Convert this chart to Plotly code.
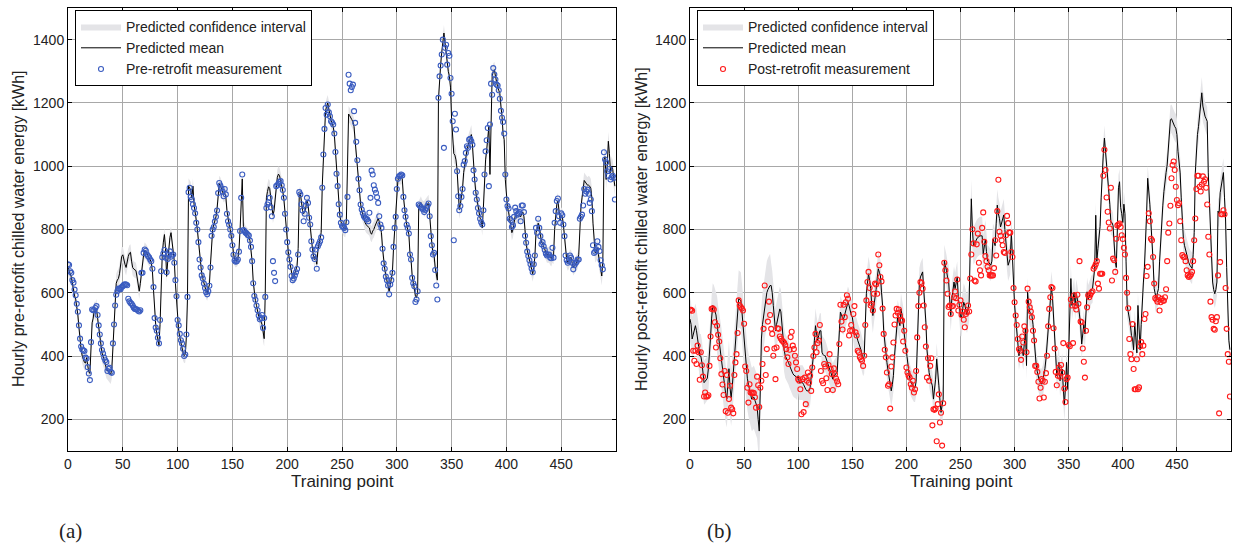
import plotly.graph_objects as go
import numpy as np

# ---------------- data: panel (a) pre-retrofit ----------------
meas_a = [
    690, 688, 668, 663, 640, 632, 610, 592, 565, 540,
    497, 455, 430, 421, 418, 416, 395, 392, 365, 345,
    324, 444, 547, 545, 545, 552, 558, 530, 497, 468,
    440, 419, 408, 395, 387, 381, 353, 360, 363, 350,
    347, 440, 500, 560, 594, 605, 613, 612, 611, 618,
    621, 625, 627, 626, 624, 581, 573, 568, 565, 560,
    553, 549, 548, 547, 543, 541, 545, 663, 663, 726,
    737, 733, 721, 716, 712, 705, 700, 676, 618, 520,
    490, 480, 458, 440, 514, 668, 712, 724, 735, 711,
    665, 707, 721, 731, 714, 718, 721, 695, 640, 589,
    514, 497, 470, 450, 440, 423, 400, 405, 468, 587,
    918, 932, 903, 895, 880, 868, 851, 821, 800, 760,
    705, 680, 655, 645, 629, 615, 602, 595, 605, 622,
    680, 780, 800, 808, 825, 840, 860, 915, 947, 939,
    930, 920, 905, 928, 911, 850, 826, 815, 800, 780,
    750, 720, 702, 698, 700, 705, 730, 795, 900, 974,
    798, 795, 790, 787, 783, 781, 765, 745, 700, 630,
    590, 578, 560, 545, 528, 516, 520, 530, 489, 520,
    587, 868, 879, 886, 900, 870, 842, 700, 663, 637,
    937, 940, 945, 950, 953, 940, 925, 900, 850, 800,
    760, 728, 705, 682, 653, 640, 645, 655, 665, 675,
    721, 918, 911, 880, 860, 826, 850, 876, 900, 884,
    837, 816, 763, 737, 715, 707, 737, 676, 747, 755,
    763, 775, 932, 1037, 1118, 1184, 1163, 1195, 1170, 1158,
    1142, 1138, 1132, 1103, 1045, 976, 937, 880, 847, 821,
    811, 808, 805, 798, 823, 903, 1289, 1261, 1240, 1250,
    1258, 1174, 1137, 1077, 1019, 960, 924, 879, 863, 851,
    842, 837, 834, 832, 826, 853, 900, 986, 974, 940,
    926, 916, 902, 884, 842, 816, 805, 739, 693, 676,
    651, 640, 623, 595, 626, 640, 663, 745, 805, 840,
    928, 960, 968, 970, 974, 971, 903, 861, 840, 815,
    805, 787, 721, 705, 647, 630, 621, 571, 579, 605,
    879, 875, 871, 866, 863, 855, 862, 868, 875, 882,
    842, 779, 750, 721, 726, 672, 623, 579, 1216, 1284,
    1318, 1353, 1400, 1058, 1374, 1384, 1321, 1358, 1349, 1279,
    1229, 1142, 766, 1166, 1116, 984, 905, 861, 874, 903,
    928, 1005, 1016, 1042, 1063, 1058, 1084, 1087, 1079, 1068,
    987, 958, 916, 895, 868, 851, 834, 823, 816, 861,
    974, 1047, 1082, 1121, 937, 1132, 1261, 1226, 1310, 1290,
    1274, 1258, 1255, 1240, 1213, 1175, 1153, 1140, 1103, 974,
    895, 874, 866, 834, 829, 808, 813, 840, 869, 858,
    847, 851, 855, 826, 876, 876, 855, 780, 758, 730,
    716, 703, 690, 677, 665, 690, 718, 805, 790, 834,
    805, 779, 753, 760, 747, 735, 724, 718, 720, 721,
    711, 709, 742, 711, 821, 858, 890, 898, 842, 821,
    851, 845, 816, 779, 718, 703, 695, 700, 718, 711,
    695, 674, 687, 693, 697, 705, 705, 834, 840, 847,
    876, 928, 913, 920, 926, 913, 884, 895, 858, 750,
    726, 730, 737, 763, 745, 732, 703, 687, 674, 1044,
    1021, 1012, 984, 970, 991, 958, 965, 970, 963, 895,
]

mean_a = [
    680, 672, 660, 650, 630, 600, 590, 580, 560, 530,
    490, 450, 420, 400, 385, 380, 378, 395, 370, 350,
    345, 460, 505, 520, 547, 540, 550, 520, 490, 455,
    430, 410, 400, 390, 375, 360, 355, 350, 345, 342,
    360, 430, 520, 600, 630, 640, 645, 660, 690, 715,
    720, 700, 690, 680, 700, 715, 725, 728, 700, 680,
    675, 672, 670, 650, 620, 605, 630, 665, 700, 720,
    735, 730, 725, 715, 710, 705, 695, 670, 610, 540,
    500, 470, 455, 435, 500, 640, 720, 760, 784, 740,
    652, 700, 740, 775, 790, 760, 740, 700, 630, 570,
    510, 480, 460, 440, 425, 410, 402, 405, 460, 580,
    937, 930, 925, 900, 937, 880, 860, 830, 800, 765,
    720, 680, 660, 645, 630, 615, 605, 600, 610, 625,
    690, 770, 800, 815, 825, 840, 865, 920, 945, 940,
    930, 920, 910, 915, 905, 860, 830, 815, 800, 780,
    755, 725, 705, 700, 702, 708, 735, 800, 900, 960,
    810, 800, 792, 788, 785, 780, 765, 740, 700, 635,
    595, 575, 560, 540, 525, 515, 510, 500, 470, 455,
    600, 900, 920, 935, 930, 900, 860, 845, 860, 900,
    940, 965, 975, 970, 955, 940, 920, 895, 850, 800,
    760, 730, 705, 680, 655, 645, 650, 660, 670, 685,
    740, 910, 915, 880, 860, 850, 855, 870, 890, 880,
    840, 810, 765, 740, 715, 705, 720, 690, 735, 750,
    765, 790, 940, 1040, 1115, 1175, 1190, 1200, 1180, 1160,
    1145, 1135, 1125, 1100, 1045, 980, 935, 880, 845, 825,
    812, 808, 803, 800, 830, 1000, 1165, 1160, 1150, 1147,
    1140, 1125, 1080, 1040, 990, 950, 910, 880, 860, 845,
    830, 822, 815, 812, 810, 805, 790, 785, 795, 800,
    810, 820, 830, 835, 825, 805, 790, 740, 695, 675,
    655, 640, 625, 605, 625, 640, 665, 740, 800, 845,
    920, 955, 965, 960, 965, 960, 905, 865, 840, 815,
    800, 785, 725, 705, 655, 635, 620, 590, 585, 600,
    870, 880, 885, 875, 870, 865, 870, 875, 880, 885,
    845, 785, 755, 725, 720, 680, 650, 640, 1210, 1280,
    1320, 1360, 1400, 1421, 1390, 1360, 1320, 1300, 1284, 1250,
    1147, 1080, 1040, 1035, 1020, 989, 900, 863, 880, 900,
    930, 980, 1010, 1035, 1050, 1065, 1080, 1090, 1100, 1068,
    990, 960, 920, 895, 870, 850, 835, 832, 805, 870,
    955, 1020, 1050, 1100, 1125, 974, 1200, 1284, 1300, 1305,
    1285, 1265, 1250, 1240, 1230, 1190, 1158, 1100, 1084, 958,
    895, 870, 855, 832, 810, 790, 800, 830, 842, 845,
    842, 842, 845, 840, 850, 855, 840, 790, 755, 735,
    720, 705, 690, 675, 660, 680, 715, 790, 800, 820,
    810, 785, 760, 755, 745, 735, 725, 720, 720, 720,
    712, 708, 720, 715, 800, 850, 880, 890, 850, 830,
    845, 840, 815, 780, 725, 705, 695, 700, 712, 710,
    695, 680, 685, 690, 695, 700, 720, 830, 870, 900,
    935, 955, 950, 945, 940, 940, 937, 930, 900, 820,
    760, 726, 730, 740, 720, 700, 680, 653, 700, 1021,
    1030, 958, 1000, 1079, 1040, 980, 1000, 990, 960, 937,
]

# confidence half-width, one value per block of 25 training points
ci_half_a = [25, 30, 25, 20, 25, 25, 20, 25, 20, 25,
             25, 25, 20, 25, 30, 25, 25, 25, 25, 30]

# ---------------- data: panel (b) post-retrofit ----------------
meas_b = [
    546, 546, 543, 417, 385, 417, 375, 433, 412, 325,
    412, 371, 335, 272, 285, 272, 272, 276, 369, 462,
    549, 551, 547, 507, 427, 496, 467, 446, 393, 343,
    310, 277, 353, 226, 340, 221, 264, 306, 237, 232,
    219, 340, 380, 406, 473, 576, 560, 554, 550, 544,
    502, 367, 353, 300, 253, 311, 285, 283, 285, 283,
    270, 237, 335, 308, 239, 300, 322, 375, 486, 623,
    340, 422, 509, 572, 530, 486, 470, 401, 424, 327,
    427, 488, 486, 462, 455, 449, 446, 442, 435, 422,
    396, 375, 420, 460, 477, 433, 422, 401, 380, 359,
    327, 322, 295, 216, 327, 223, 332, 248, 322, 348,
    316, 338, 290, 364, 400, 427, 470, 412, 441, 449,
    498, 353, 322, 314, 375, 367, 330, 293, 372, 406,
    359, 343, 293, 361, 343, 329, 320, 311, 438, 562,
    509, 484, 562, 523, 570, 592, 581, 465, 480, 498,
    480, 533, 558, 475, 465, 417, 412, 396, 390, 385,
    369, 401, 498, 576, 634, 666, 615, 560, 565, 544,
    597, 629, 626, 597, 721, 687, 650, 636, 550, 470,
    420, 396, 348, 306, 311, 234, 367, 396, 443, 500,
    528, 549, 537, 547, 528, 515, 512, 446, 480, 417,
    364, 348, 338, 332, 311, 300, 322, 285, 295, 353,
    459, 558, 600, 634, 631, 613, 560, 491, 430, 332,
    393, 322, 369, 393, 181, 232, 230, 234, 131, 248,
    279, 190, 221, 117, 251, 695, 671, 639, 597, 555,
    560, 533, 558, 558, 586, 604, 583, 642, 544, 562,
    576, 530, 541, 515, 491, 533, 539, 560, 541, 645,
    721, 801, 756, 639, 636, 753, 787, 695, 671, 655,
    805, 854, 761, 716, 700, 682, 671, 655, 655, 655,
    655, 678, 766, 718, 858, 957, 793, 780, 766, 750,
    729, 726, 782, 843, 820, 790, 790, 729, 713, 615,
    570, 528, 498, 454, 422, 417, 388, 462, 443, 494,
    480, 412, 613, 572, 554, 541, 523, 480, 449, 369,
    369, 350, 319, 266, 300, 327, 322, 269, 319, 346,
    401, 494, 549, 586, 618, 615, 488, 424, 350, 308,
    338, 364, 335, 372, 348, 441, 297, 255, 327, 332,
    435, 431, 579, 560, 441, 592, 558, 547, 594, 565,
    700, 509, 507, 424, 382, 332, 480, 554, 592, 586,
    594, 601, 605, 676, 682, 690, 700, 629, 613, 660,
    660, 660, 970, 1052, 988, 901, 856, 822, 803, 932,
    639, 708, 703, 666, 771, 813, 816, 819, 808, 782,
    770, 742, 721, 647, 600, 551, 454, 406, 390, 501,
    359, 295, 295, 390, 295, 301, 431, 444, 406, 433,
    517, 533, 653, 682, 851, 826, 771, 766, 713, 629,
    583, 579, 572, 586, 544, 570, 581, 575, 575, 586,
    611, 700, 790, 819, 875, 962, 1004, 1015, 988, 935,
    893, 877, 883, 826, 766, 719, 713, 713, 700, 671,
    655, 650, 653, 658, 666, 700, 766, 835, 928, 970,
    970, 935, 920, 942, 968, 951, 959, 932, 879, 777,
    721, 572, 523, 515, 486, 483, 510, 523, 655, 219,
    697, 848, 848, 861, 848, 615, 486, 406, 382, 272,
]

mean_b = [
    517, 500, 454, 470, 490, 496, 480, 460, 430, 400,
    400, 380, 350, 316, 320, 325, 330, 360, 400, 460,
    520, 560, 555, 540, 530, 500, 470, 450, 420, 400,
    370, 338, 300, 280, 264, 300, 360, 300, 269, 300,
    350, 380, 420, 470, 530, 581, 578, 575, 540, 500,
    454, 400, 360, 330, 310, 295, 280, 264, 265, 270,
    260, 250, 240, 200, 163, 300, 454, 500, 530, 560,
    580, 600, 610, 620, 623, 623, 600, 560, 520, 480,
    500, 520, 540, 549, 540, 500, 450, 420, 401, 395,
    390, 380, 370, 360, 350, 345, 340, 338, 335, 330,
    338, 316, 316, 316, 316, 310, 300, 295, 290, 290,
    290, 300, 330, 370, 400, 450, 496, 470, 450, 465,
    480, 480, 412, 405, 401, 401, 390, 375, 365, 359,
    350, 340, 327, 335, 343, 346, 348, 400, 480, 539,
    530, 520, 518, 530, 545, 560, 570, 560, 540, 530,
    523, 500, 475, 470, 465, 450, 440, 433, 420, 405,
    391, 400, 539, 597, 630, 660, 640, 613, 560, 528,
    560, 581, 610, 645, 676, 665, 655, 602, 560, 480,
    440, 401, 380, 355, 327, 300, 290, 310, 338, 400,
    444, 500, 528, 510, 496, 549, 530, 507, 470, 444,
    412, 380, 350, 330, 320, 310, 305, 300, 300, 320,
    450, 560, 634, 650, 660, 666, 610, 560, 507, 420,
    370, 348, 330, 320, 306, 264, 290, 327, 391, 330,
    306, 260, 222, 245, 264, 702, 690, 671, 650, 639,
    580, 528, 581, 620, 634, 613, 630, 650, 581, 560,
    523, 523, 550, 570, 560, 545, 533, 550, 570, 749,
    897, 800, 749, 755, 765, 770, 775, 778, 780, 780,
    780, 723, 750, 770, 730, 700, 697, 690, 687, 700,
    770, 760, 749, 820, 877, 850, 835, 808, 820, 835,
    846, 800, 770, 720, 687, 700, 708, 790, 700, 615,
    560, 520, 480, 440, 401, 420, 433, 420, 401, 440,
    485, 370, 602, 560, 539, 535, 528, 500, 454, 400,
    370, 350, 332, 320, 315, 311, 320, 338, 360, 391,
    440, 497, 550, 600, 618, 586, 520, 454, 380, 338,
    360, 380, 322, 340, 359, 300, 245, 300, 380, 295,
    433, 581, 645, 560, 580, 602, 560, 597, 580, 560,
    530, 500, 438, 470, 500, 470, 540, 603, 580, 590,
    603, 610, 613, 640, 676, 845, 700, 740, 780, 810,
    900, 983, 1040, 1089, 1050, 1015, 970, 920, 880, 822,
    822, 812, 750, 700, 680, 800, 932, 951, 870, 850,
    822, 880, 850, 700, 560, 540, 523, 500, 465, 454,
    420, 505, 460, 410, 560, 480, 420, 500, 600, 631,
    680, 750, 850, 962, 930, 880, 820, 771, 700, 613,
    590, 580, 600, 613, 700, 771, 820, 877, 920, 960,
    980, 1004, 1050, 1100, 1147, 1150, 1140, 1135, 1125, 1120,
    1100, 1047, 1010, 979, 900, 820, 771, 750, 735, 728,
    710, 695, 687, 680, 677, 720, 790, 979, 1050, 1100,
    1126, 1160, 1200, 1232, 1190, 1170, 1158, 1150, 1142, 979,
    880, 766, 700, 634, 610, 597, 610, 634, 858, 850,
    916, 935, 960, 980, 900, 830, 680, 550, 450, 420,
]

ci_half_b = [70, 90, 100, 70, 55, 50, 55, 50, 45, 50,
             60, 50, 45, 50, 45, 40, 40, 45, 50, 45]

x_ticks = [0, 50, 100, 150, 200, 250, 300, 350, 400, 450]
y_ticks = [200, 400, 600, 800, 1000, 1200, 1400]

legend_names_a = ["Predicted confidence interval", "Predicted mean", "Pre-retrofit measurement"]
legend_names_b = ["Predicted confidence interval", "Predicted mean", "Post-retrofit measurement"]
y_titles = ["Hourly pre-retrofit chilled water energy [kWh]",
            "Hourly post-retrofit chilled water energy [kWh]"]
x_title = "Training point"
panel_tags = ["(a)", "(b)"]

# ---------------- figure ----------------
fig = go.Figure()
BAND = "rgb(228,228,231)"
SANS = "Arial, Liberation Sans, sans-serif"


def add_panel(meas, mean, ci_blocks, names, mcolor, xa, ya, leg):
    mean_arr = np.array(mean, dtype=float)
    n = len(mean_arr)
    half = np.repeat(np.array(ci_blocks, dtype=float), 25)[:n]
    xs = np.arange(n)
    fig.add_trace(go.Scatter(x=xs, y=mean_arr - half, mode="lines",
                             line=dict(width=0, color=BAND), showlegend=False,
                             hoverinfo="skip", xaxis=xa, yaxis=ya, legend=leg))
    fig.add_trace(go.Scatter(x=xs, y=mean_arr + half, mode="lines", fill="tonexty",
                             fillcolor=BAND, line=dict(width=0, color=BAND),
                             name=names[0], xaxis=xa, yaxis=ya, legend=leg))
    fig.add_trace(go.Scatter(x=xs, y=mean_arr, mode="lines",
                             line=dict(color="black", width=1),
                             name=names[1], xaxis=xa, yaxis=ya, legend=leg))
    fig.add_trace(go.Scatter(x=np.arange(len(meas)), y=meas, mode="markers",
                             marker=dict(symbol="circle-open", size=5, color=mcolor,
                                         line=dict(width=1.1, color=mcolor)),
                             name=names[2], xaxis=xa, yaxis=ya, legend=leg))


add_panel(meas_a, mean_a, ci_half_a, legend_names_a, "#3a5cc0", "x", "y", "legend")
add_panel(meas_b, mean_b, ci_half_b, legend_names_b, "#ff1a1a", "x2", "y2", "legend2")

W, H = 1233, 548
y_dom = [1 - 451 / H, 1 - 8 / H]
axis_common = dict(showgrid=True, gridcolor="#a8a8a8", gridwidth=1, automargin=False,
                   showline=True, linecolor="black", linewidth=1, mirror="ticks",
                   ticks="inside", ticklen=4, tickcolor="black", zeroline=False,
                   tickfont=dict(family=SANS, size=14, color="#222"))

legend_common = dict(xanchor="left", yanchor="top", bgcolor="white", traceorder="normal",
                     bordercolor="black", borderwidth=1, itemwidth=40, tracegroupgap=0,
                     font=dict(family=SANS, size=14, color="#222"))

fig.update_layout(
    width=W, height=H, margin=dict(l=0, r=0, t=0, b=0, autoexpand=False),
    paper_bgcolor="white", plot_bgcolor="white",
    xaxis=dict(domain=[68 / W, 616 / W], range=[0, 500], tickvals=x_ticks, anchor="y", **axis_common),
    yaxis=dict(domain=y_dom, range=[100, 1500], tickvals=y_ticks, anchor="x", **axis_common),
    xaxis2=dict(domain=[690 / W, 1231 / W], range=[0, 500], tickvals=x_ticks, anchor="y2", **axis_common),
    yaxis2=dict(domain=y_dom, range=[100, 1500], tickvals=y_ticks, anchor="x2", **axis_common),
    legend=dict(x=75 / W, y=1 - 10 / H, **legend_common),
    legend2=dict(x=697 / W, y=1 - 10 / H, **legend_common),
    showlegend=True,
)

lab_font = dict(family=SANS, size=17, color="#222")
fig.add_annotation(text=x_title, x=342 / W, y=1 - 481 / H, xref="paper", yref="paper",
                   showarrow=False, font=lab_font, xanchor="center", yanchor="middle")
fig.add_annotation(text=x_title, x=961 / W, y=1 - 481 / H, xref="paper", yref="paper",
                   showarrow=False, font=lab_font, xanchor="center", yanchor="middle")
ylab_font = dict(family=SANS, size=16, color="#222")
fig.add_annotation(text=y_titles[0], x=18 / W, y=1 - 229 / H, xref="paper", yref="paper",
                   showarrow=False, textangle=-90, font=ylab_font,
                   xanchor="center", yanchor="middle")
fig.add_annotation(text=y_titles[1], x=641 / W, y=1 - 229 / H, xref="paper", yref="paper",
                   showarrow=False, textangle=-90, font=ylab_font,
                   xanchor="center", yanchor="middle")
tag_font = dict(family="Liberation Serif, Times New Roman, serif", size=21, color="#222")
fig.add_annotation(text=panel_tags[0], x=70 / W, y=1 - 531 / H, xref="paper", yref="paper",
                   showarrow=False, font=tag_font, xanchor="center", yanchor="middle")
fig.add_annotation(text=panel_tags[1], x=719 / W, y=1 - 531 / H, xref="paper", yref="paper",
                   showarrow=False, font=tag_font, xanchor="center", yanchor="middle")

fig.write_html("out.html", config={"displayModeBar": False},
               post_script="document.body.style.margin='0px';document.body.style.overflow='hidden';")
